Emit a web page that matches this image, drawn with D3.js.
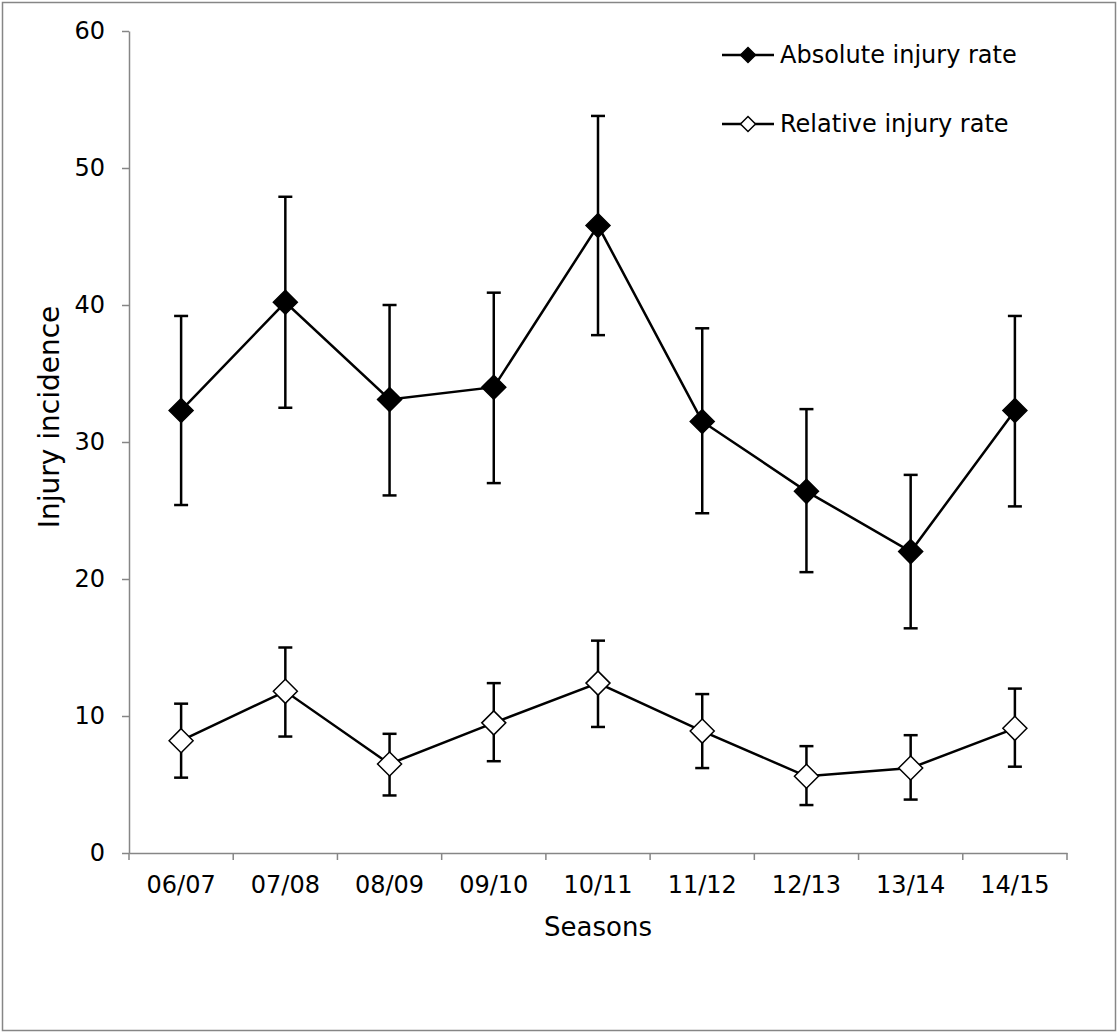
<!DOCTYPE html>
<html>
<head>
<meta charset="utf-8">
<script src="https://cdn.jsdelivr.net/npm/d3@7"></script>
<style>
    body { margin: 0; background: #fff; }
    text { font-family: "DejaVu Sans", sans-serif; fill: #000; }
    .axis path, .axis line { stroke: #868686; stroke-width: 1.5; }
    .axis text { font-size: 24px; }
</style>
</head>
<body>
<div id="chart"></div>
<script>
// seasons along the x axis
const seasons = ['06/07', '07/08', '08/09', '09/10', '10/11', '11/12', '12/13', '13/14', '14/15'];

// absolute injury rate with lower / upper error bar ends
const absoluteRate = [32.3, 40.2, 33.1, 34.0, 45.8, 31.5, 26.4, 22.0, 32.3];
const absoluteLow = [25.4, 32.5, 26.1, 27.0, 37.8, 24.8, 20.5, 16.4, 25.3];
const absoluteHigh = [39.2, 47.9, 40.0, 40.9, 53.8, 38.3, 32.4, 27.6, 39.2];

// relative injury rate with lower / upper error bar ends
const relativeRate = [8.2, 11.8, 6.5, 9.5, 12.4, 8.9, 5.6, 6.2, 9.1];
const relativeLow = [5.5, 8.5, 4.2, 6.7, 9.2, 6.2, 3.5, 3.9, 6.3];
const relativeHigh = [10.9, 15.0, 8.7, 12.4, 15.5, 11.6, 7.8, 8.6, 12.0];

const yTicks = [0, 10, 20, 30, 40, 50, 60];

const seriesNames = ['Absolute injury rate', 'Relative injury rate'];

const width = 1118, height = 1034;
const margin = {top: 31, right: 51, bottom: 181, left: 129};
const innerW = width - margin.left - margin.right;
const innerH = height - margin.top - margin.bottom;

const svg = d3.select('#chart').append('svg')
    .attr('width', width)
    .attr('height', height);

// outer frame
svg.append('rect')
    .attr('x', 2.5).attr('y', 2.5)
    .attr('width', width - 5).attr('height', height - 6)
    .attr('fill', 'none')
    .attr('stroke', '#868686')
    .attr('stroke-width', 1.5);

const chart = svg.append('g')
    .attr('transform', `translate(${margin.left},${margin.top})`);

const xScale = d3.scaleBand().domain(seasons).range([0, innerW]).padding(0);
const yScale = d3.scaleLinear().domain([0, 60]).range([innerH, 0]);
const xMid = d => xScale(d) + xScale.bandwidth() / 2;

// y axis
const yAxisG = chart.append('g').attr('class', 'axis y-axis')
    .call(d3.axisLeft(yScale).tickValues(yTicks).tickSize(7).tickSizeOuter(0).tickPadding(17));

// x axis: labels centred in bands, ticks at band edges
const xAxisG = chart.append('g').attr('class', 'axis x-axis')
    .attr('transform', `translate(0,${innerH})`)
    .call(d3.axisBottom(xScale).tickSize(0).tickPadding(23));

const edges = seasons.map(d => xScale(d)).concat([innerW]);
xAxisG.selectAll('.edge')
    .data(edges)
    .join('line')
    .attr('class', 'edge')
    .attr('x1', d => d).attr('x2', d => d)
    .attr('y1', 0).attr('y2', 7)
    .attr('stroke', '#868686')
    .attr('stroke-width', 1.5);

// axis titles
svg.append('text')
    .attr('x', margin.left + innerW / 2)
    .attr('y', 936)
    .attr('text-anchor', 'middle')
    .style('font-size', '26px')
    .text('Seasons');

svg.append('text')
    .attr('transform', `translate(59,${margin.top + 386}) rotate(-90)`)
    .attr('text-anchor', 'middle')
    .style('font-size', '28px')
    .text('Injury incidence');

const diamond = r => `M0,${-r}L${r},0L0,${r}L${-r},0Z`;

function drawSeries(values, low, high, fill) {
    const data = seasons.map((s, i) => ({s, v: values[i], lo: low[i], hi: high[i]}));
    const g = chart.append('g');

    // error bars
    const eb = g.selectAll('.err').data(data).join('g').attr('class', 'err');
    eb.append('line')
        .attr('x1', d => xMid(d.s)).attr('x2', d => xMid(d.s))
        .attr('y1', d => yScale(d.lo)).attr('y2', d => yScale(d.hi));
    eb.append('line')
        .attr('x1', d => xMid(d.s) - 7).attr('x2', d => xMid(d.s) + 7)
        .attr('y1', d => yScale(d.hi)).attr('y2', d => yScale(d.hi));
    eb.append('line')
        .attr('x1', d => xMid(d.s) - 7).attr('x2', d => xMid(d.s) + 7)
        .attr('y1', d => yScale(d.lo)).attr('y2', d => yScale(d.lo));
    eb.selectAll('line').attr('stroke', '#000').attr('stroke-width', 2.5);

    // connecting line
    g.append('path')
        .datum(data)
        .attr('fill', 'none')
        .attr('stroke', '#000')
        .attr('stroke-width', 2.5)
        .attr('d', d3.line().x(d => xMid(d.s)).y(d => yScale(d.v)));

    // markers
    g.selectAll('.marker').data(data).join('path')
        .attr('class', 'marker')
        .attr('transform', d => `translate(${xMid(d.s)},${yScale(d.v)})`)
        .attr('d', diamond(12))
        .attr('fill', fill)
        .attr('stroke', '#000')
        .attr('stroke-width', 1.5);
}

drawSeries(absoluteRate, absoluteLow, absoluteHigh, '#000');
drawSeries(relativeRate, relativeLow, relativeHigh, '#fff');

// legend
const legend = svg.append('g').attr('transform', 'translate(722,55)');
const fills = ['#000', '#fff'];
const items = legend.selectAll('g').data(seriesNames).join('g')
    .attr('transform', (d, i) => `translate(0,${i * 69})`);
items.append('line')
    .attr('x1', 0).attr('x2', 52).attr('y1', 0).attr('y2', 0)
    .attr('stroke', '#000').attr('stroke-width', 2.5);
items.append('path')
    .attr('transform', 'translate(26,0)')
    .attr('d', diamond(7.5))
    .attr('fill', (d, i) => fills[i])
    .attr('stroke', '#000').attr('stroke-width', 1.5);
items.append('text')
    .attr('x', 58).attr('y', 0).attr('dy', '0.35em')
    .style('font-size', '24px')
    .text(d => d);
</script>
</body>
</html>
